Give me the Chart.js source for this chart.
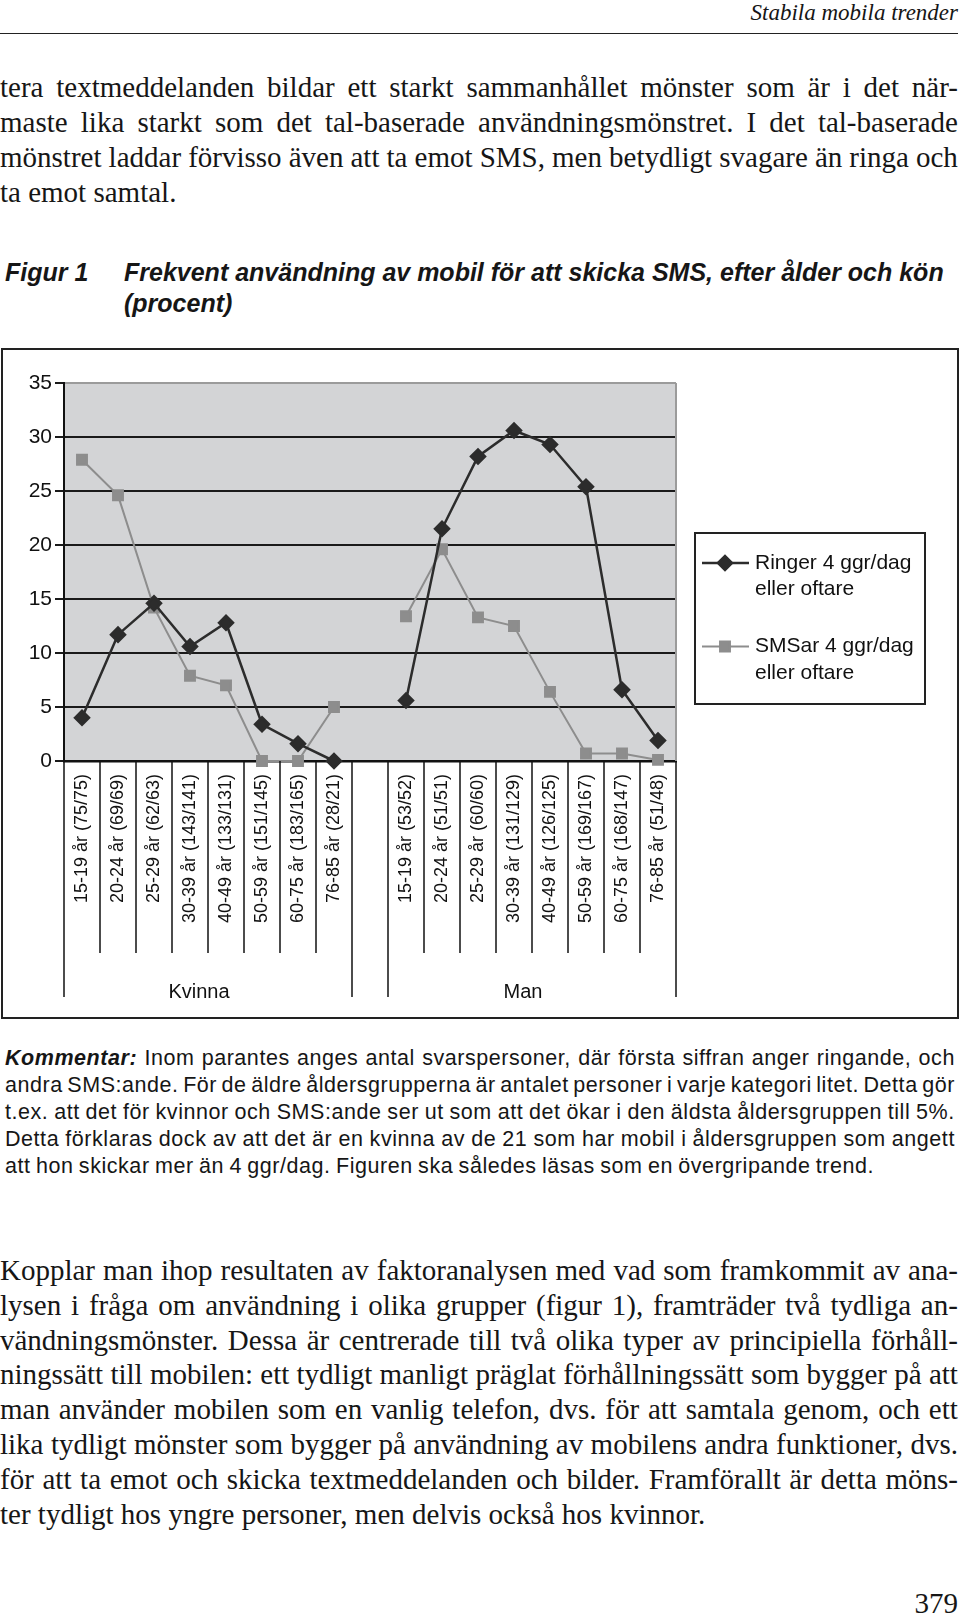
<!DOCTYPE html>
<html>
<head>
<meta charset="utf-8">
<script src="https://cdn.jsdelivr.net/npm/chart.js@4"></script>
<style>
  html, body { margin: 0; padding: 0; background: #fff; }
  body { position: relative; width: 960px; height: 1618px; overflow: hidden; color: #161616; }
  .abs { position: absolute; }
  .serif { font-family: 'Liberation Serif', 'Times New Roman', serif; }
  .sans { font-family: 'Liberation Sans', Arial, sans-serif; }
  .row { display: flex; justify-content: space-between; white-space: nowrap; gap: 0.12em; }
  .row.last { justify-content: flex-start; gap: 0; }
  .row.last span { margin-right: 0.25em; }
  #hdr { right: 2px; top: 0px; font-size: 23px; line-height: 26px; font-style: italic; }
  #rule { left: 0; top: 33px; width: 958px; height: 0; border-top: 1.5px solid #222; }
  #p1 { left: 0; top: 70px; width: 958px; font-size: 29px; line-height: 35px; }
  #title { left: 5px; top: 257px; width: 950px; font-size: 25px; line-height: 31px; font-weight: bold; font-style: italic; }
  #title .fig { position: absolute; left: 0; top: 0; }
  #title .txt { position: absolute; left: 119px; top: 0; white-space: nowrap; }
  #fig { left: 1px; top: 348px; width: 954px; height: 667px; border: 2px solid #222; }
  #note { left: 5px; top: 1045px; width: 950px; font-size: 21.5px; line-height: 27px; letter-spacing: 0.55px; }
  #note .lead { font-weight: bold; font-style: italic; }
  #p2 { left: 0; top: 1253px; width: 958px; font-size: 29px; line-height: 34.8px; }
  #pg { right: 2px; top: 1586px; font-size: 29px; line-height: 35px; }
</style>
</head>
<body>
<div id="hdr" class="abs serif">Stabila mobila trender</div>
<div id="rule" class="abs"></div>
<div id="p1" class="abs serif"></div>
<div id="title" class="abs sans">
  <div class="fig">Figur 1</div>
  <div class="txt">Frekvent användning av mobil för att skicka SMS, efter ålder och kön<br>(procent)</div>
</div>
<div id="fig" class="abs"><canvas id="chart" width="954" height="667"></canvas></div>
<div id="note" class="abs sans"></div>
<div id="p2" class="abs serif"></div>
<div id="pg" class="abs serif">379</div>

<script>
// text of the page, line by line as printed
const para1 = [
  'tera textmeddelanden bildar ett starkt sammanhållet mönster som är i det när-',
  'maste lika starkt som det tal-baserade användningsmönstret. I det tal-baserade',
  'mönstret laddar förvisso även att ta emot SMS, men betydligt svagare än ringa och',
  'ta emot samtal.',
];
const noteLines = [
  'Kommentar: Inom parantes anges antal svarspersoner, där första siffran anger ringande, och',
  'andra SMS:ande. För de äldre åldersgrupperna är antalet personer i varje kategori litet. Detta gör',
  't.ex. att det för kvinnor och SMS:ande ser ut som att det ökar i den äldsta åldersgruppen till 5%.',
  'Detta förklaras dock av att det är en kvinna av de 21 som har mobil i åldersgruppen som angett',
  'att hon skickar mer än 4 ggr/dag. Figuren ska således läsas som en övergripande trend.',
];
const para2 = [
  'Kopplar man ihop resultaten av faktoranalysen med vad som framkommit av ana-',
  'lysen i fråga om användning i olika grupper (figur 1), framträder två tydliga an-',
  'vändningsmönster. Dessa är centrerade till två olika typer av principiella förhåll-',
  'ningssätt till mobilen: ett tydligt manligt präglat förhållningssätt som bygger på att',
  'man använder mobilen som en vanlig telefon, dvs. för att samtala genom, och ett',
  'lika tydligt mönster som bygger på användning av mobilens andra funktioner, dvs.',
  'för att ta emot och skicka textmeddelanden och bilder. Framförallt är detta möns-',
  'ter tydligt hos yngre personer, men delvis också hos kvinnor.',
];

// chart data
const kvinnaLabels = ['15-19 år (75/75)', '20-24 år (69/69)', '25-29 år (62/63)', '30-39 år (143/141)',
  '40-49 år (133/131)', '50-59 år (151/145)', '60-75 år (183/165)', '76-85 år (28/21)'];
const manLabels = ['15-19 år (53/52)', '20-24 år (51/51)', '25-29 år (60/60)', '30-39 år (131/129)',
  '40-49 år (126/125)', '50-59 år (169/167)', '60-75 år (168/147)', '76-85 år (51/48)'];
const groupNames = ['Kvinna', 'Man'];
const ringerKvinna = [4.0, 11.7, 14.6, 10.6, 12.8, 3.4, 1.6, 0];
const ringerMan = [5.6, 21.5, 28.2, 30.6, 29.3, 25.4, 6.6, 1.9];
const smsKvinna = [27.9, 24.6, 14.2, 7.9, 7.0, 0, 0, 5.0];
const smsMan = [13.4, 19.6, 13.3, 12.5, 6.4, 0.7, 0.7, 0.1];
const seriesNames = [['Ringer 4 ggr/dag', 'eller oftare'], ['SMSar 4 ggr/dag', 'eller oftare']];
const yMin = 0, yMax = 35, yStep = 5;

function fillLines(el, lines, leadWord) {
  lines.forEach((line, i) => {
    const row = document.createElement('div');
    row.className = 'row' + (i === lines.length - 1 ? ' last' : '');
    line.split(' ').forEach((w, j) => {
      const s = document.createElement('span');
      s.textContent = w;
      if (leadWord && i === 0 && j === 0) s.className = 'lead';
      row.appendChild(s);
    });
    el.appendChild(row);
  });
}
fillLines(document.getElementById('p1'), para1);
fillLines(document.getElementById('note'), noteLines, true);
fillLines(document.getElementById('p2'), para2);

// squeeze a line a little if the substitute font runs too wide
document.querySelectorAll('.row').forEach((row) => {
  let ls = parseFloat(getComputedStyle(row).letterSpacing) || 0;
  let n = 0;
  while (row.scrollWidth > row.clientWidth + 0.5 && n < 30) {
    ls -= 0.1;
    row.style.letterSpacing = ls + 'px';
    n++;
  }
});

const labels = [...kvinnaLabels, '', ...manLabels];
const ringer = [...ringerKvinna, null, ...ringerMan];
const sms = [...smsKvinna, null, ...smsMan];

Chart.defaults.font.family = "'Liberation Sans', Arial, sans-serif";
Chart.defaults.color = '#111';

const dark = '#2c2c2c';
const grey = '#8d8d8d';

const decor = {
  id: 'decor',
  beforeDraw(chart) {
    const { ctx, chartArea: a } = chart;
    ctx.save();
    ctx.fillStyle = '#d3d4d6';
    ctx.fillRect(a.left, a.top, a.right - a.left, a.bottom - a.top);
    ctx.restore();
  },
  beforeDatasetsDraw(chart) {
    const { ctx, chartArea: a } = chart;
    ctx.save();
    ctx.strokeStyle = '#9b9b9b';
    ctx.lineWidth = 2;
    ctx.beginPath();
    ctx.moveTo(a.right, a.top);
    ctx.lineTo(a.right, a.bottom);
    ctx.stroke();
    ctx.restore();
  },
  afterDraw(chart) {
    const { ctx, chartArea: a } = chart;
    const x = chart.scales.x;
    const n = chart.data.labels.length;
    const step = (x.right - x.left) / n;
    const kEnd = kvinnaLabels.length;
    const groupEdges = [[0, kEnd], [kEnd + 1, n]];
    const longEdges = [0, kEnd, kEnd + 1, n];
    ctx.save();
    ctx.strokeStyle = '#111';
    ctx.lineWidth = 1.5;
    for (let k = 0; k <= n; k++) {
      const isLong = longEdges.includes(k);
      const px = x.left + k * step;
      ctx.beginPath();
      ctx.moveTo(px, a.bottom);
      ctx.lineTo(px, a.bottom + (isLong ? 236 : 192));
      ctx.stroke();
    }
    ctx.fillStyle = '#111';
    ctx.font = "20px 'Liberation Sans', Arial, sans-serif";
    ctx.textAlign = 'center';
    ctx.textBaseline = 'middle';
    groupEdges.forEach(([s, e], i) => {
      ctx.fillText(groupNames[i], x.left + (s + e) / 2 * step - 9, a.bottom + 231);
    });

    // legend
    const lx = a.right + 19, ly = 183, lw = 230, lh = 171;
    ctx.lineWidth = 2;
    ctx.strokeStyle = '#222';
    ctx.strokeRect(lx, ly, lw, lh);
    ctx.font = "21px 'Liberation Sans', Arial, sans-serif";
    ctx.textAlign = 'left';
    chart.data.datasets.forEach((ds, i) => {
      const y0 = ly + 30 + i * 83.5;
      ctx.strokeStyle = ds.borderColor;
      ctx.lineWidth = ds.borderWidth;
      ctx.beginPath();
      ctx.moveTo(lx + 7, y0);
      ctx.lineTo(lx + 54, y0);
      ctx.stroke();
      ctx.fillStyle = ds.pointBackgroundColor;
      ctx.strokeStyle = ds.pointBackgroundColor;
      Chart.helpers.drawPoint(ctx, { pointStyle: ds.pointStyle, radius: ds.pointRadius, borderWidth: 1 }, lx + 30, y0);
      ctx.fillStyle = '#111';
      seriesNames[i].forEach((t, j) => ctx.fillText(t, lx + 60, y0 + j * 26.5));
    });
    ctx.restore();
  },
};

new Chart(document.getElementById('chart'), {
  type: 'line',
  data: {
    labels,
    datasets: [
      {
        label: seriesNames[0].join(' '),
        data: ringer,
        borderColor: dark,
        backgroundColor: dark,
        pointBackgroundColor: dark,
        pointBorderColor: dark,
        borderWidth: 2.5,
        pointStyle: 'rectRot',
        pointRadius: 7,
        clip: false,
      },
      {
        label: seriesNames[1].join(' '),
        data: sms,
        borderColor: grey,
        backgroundColor: grey,
        pointBackgroundColor: grey,
        pointBorderColor: grey,
        borderWidth: 2,
        pointStyle: 'rect',
        pointRadius: 7,
        clip: false,
      },
    ],
  },
  options: {
    responsive: false,
    animation: false,
    layout: {
      padding: { top: 33, right: 281, left: 0, bottom: 0 },
    },
    scales: {
      x: {
        type: 'category',
        offset: true,
        afterFit: (s) => { s.height = 256; },
        grid: { display: true, drawOnChartArea: false, drawTicks: false },
        border: { color: '#111', width: 2.5 },
        ticks: {
          autoSkip: false,
          minRotation: 90,
          maxRotation: 90,
          padding: 13,
          color: '#111',
          font: { size: 18 },
        },
      },
      y: {
        min: yMin,
        max: yMax,
        afterFit: (s) => { s.width = 61; },
        grid: {
          color: (c) => (c.tick && c.tick.value === yMax ? '#9b9b9b' : '#1a1a1a'),
          lineWidth: 2,
          tickColor: '#1a1a1a',
          tickLength: 9,
        },
        border: { color: '#111', width: 2 },
        ticks: {
          stepSize: yStep,
          padding: 3,
          color: '#111',
          font: { size: 21 },
        },
      },
    },
    plugins: {
      legend: { display: false },
      tooltip: { enabled: false },
    },
  },
  plugins: [decor],
});
</script>
</body>
</html>
